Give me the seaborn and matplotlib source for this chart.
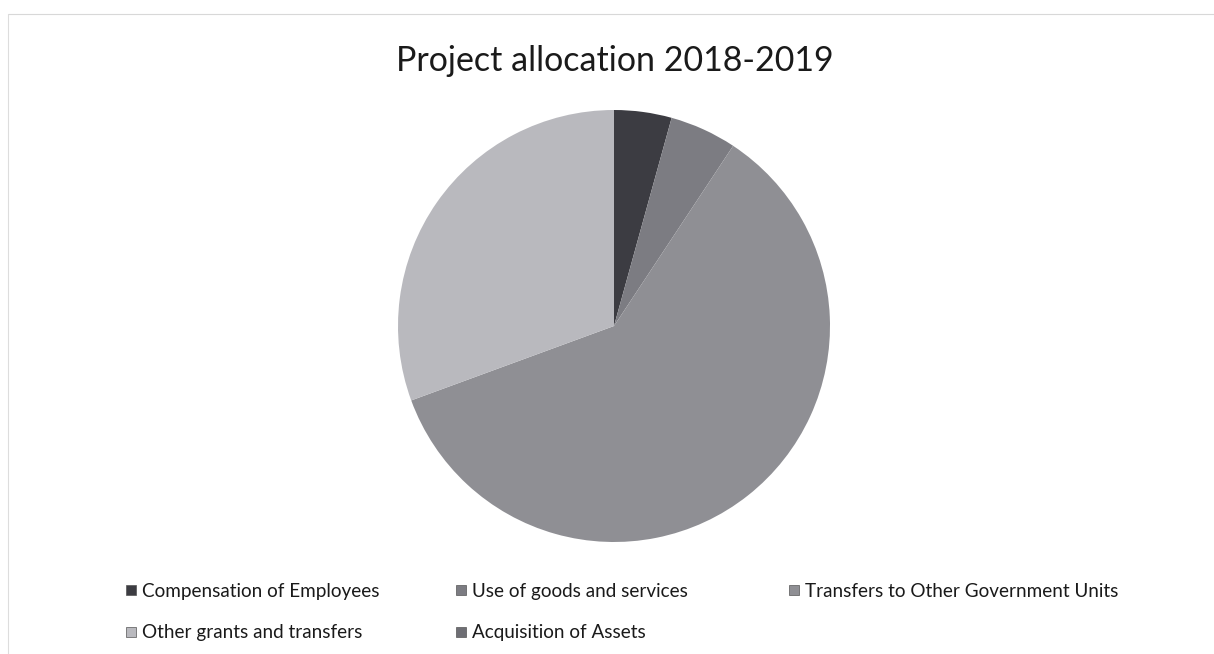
import matplotlib
matplotlib.use("Agg")
import matplotlib.pyplot as plt
import seaborn as sns
from matplotlib.lines import Line2D

# data (percent shares)
categories = ["Compensation of Employees", "Use of goods and services",
              "Transfers to Other Government Units", "Other grants and transfers",
              "Acquisition of Assets"]
shares = [4.3, 5.0, 60.1, 30.6, 0.0]
colors = ["#3c3c42", "#7c7c82", "#8f8f94", "#b9b9be", "#6e6e74"]

sns.set_style("white")
plt.rcParams['font.family'] = ['Lato', 'DejaVu Sans']

W, H = 1214, 654
fig = plt.figure(figsize=(W / 100, H / 100), dpi=100)
fig.patch.set_facecolor("white")

# pie centre and radius in pixels
cx, cy, r = 614, 326, 216
ax = fig.add_axes([(cx - r) / W, (H - cy - r) / H, 2 * r / W, 2 * r / H])
ax.pie(shares, colors=colors, startangle=90, counterclock=False,
       wedgeprops=dict(linewidth=0))
ax.set_xlim(-1, 1)
ax.set_ylim(-1, 1)
ax.set_aspect("equal")
ax.axis("off")

fig.text(615 / W, 1 - 61 / H, "Project allocation 2018-2019",
         ha="center", va="center", fontsize=24.5, color="#1a1a1a")

# faint frame of the chart area
fig.add_artist(Line2D([8 / W, 1.0], [1 - 14 / H, 1 - 14 / H],
                      color="#d8d8d8", lw=0.8))
fig.add_artist(Line2D([8 / W, 8 / W], [1 - 14 / H, 0.0],
                      color="#dddddd", lw=0.8))

# legend laid out in three fixed columns like the original
columns = [[0, 3], [1, 4], [2]]
col_x = [124, 454, 787]
for col, x in zip(columns, col_x):
    handles = [Line2D([], [], marker="s", linestyle="none", markersize=7,
                      markerfacecolor=colors[i], markeredgecolor="#555555",
                      markeredgewidth=0.5) for i in col]
    labels = [categories[i] for i in col]
    fig.legend(handles, labels, loc="upper left",
               bbox_to_anchor=(x / W, 1 - 583 / H), frameon=False,
               fontsize=13.6, handlelength=0.7, handletextpad=0.25,
               labelspacing=1.28, borderpad=0, borderaxespad=0,
               labelcolor="#1a1a1a")

plt.savefig("out.png", dpi=100)
